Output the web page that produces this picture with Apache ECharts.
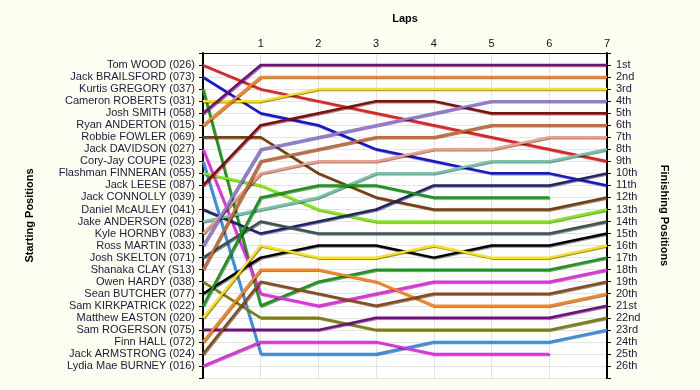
<!DOCTYPE html>
<html>
<head>
<meta charset="utf-8">
<script src="https://cdn.jsdelivr.net/npm/echarts@6/dist/echarts.min.js"></script>
<style>
html,body{margin:0;padding:0;background:#FDFDF1;}
#chart{width:700px;height:390px;}
</style>
</head>
<body>
<div id="chart"></div>
<script>
const laps = [0, 1, 2, 3, 4, 5, 6, 7];
const lapLabels = ['', '1', '2', '3', '4', '5', '6', '7'];
const startNames = [
  'Tom WOOD (026)', 'Jack BRAILSFORD (073)', 'Kurtis GREGORY (037)', 'Cameron ROBERTS (031)',
  'Josh SMITH (058)', 'Ryan ANDERTON (015)', 'Robbie FOWLER (069)', 'Jack DAVIDSON (027)',
  'Cory-Jay COUPE (023)', 'Flashman FINNERAN (055)', 'Jack LEESE (087)', 'Jack CONNOLLY (039)',
  'Daniel McAULEY (041)', 'Jake ANDERSON (028)', 'Kyle HORNBY (083)', 'Ross MARTIN (033)',
  'Josh SKELTON (071)', 'Shanaka CLAY (S13)', 'Owen HARDY (038)', 'Sean BUTCHER (077)',
  'Sam KIRKPATRICK (022)', 'Matthew EASTON (020)', 'Sam ROGERSON (075)', 'Finn HALL (072)',
  'Jack ARMSTRONG (024)', 'Lydia Mae BURNEY (016)'
];
const finishLabels = [
  '1st', '2nd', '3rd', '4th', '5th', '6th', '7th', '8th', '9th', '10th', '11th', '12th', '13th',
  '14th', '15th', '16th', '17th', '18th', '19th', '20th', '21st', '22nd', '23rd', '24th', '25th', '26th'
];
// position of each rider at lap 0..7 (same order as startNames)
const riderPositions = [
  [1, 3, 4, 5, 6, 7, 8, 9],
  [2, 5, 6, 8, 9, 10, 10, 11],
  [3, 21, 19, 18, 18, 18, 18, 17],
  [4, 4, 3, 3, 3, 3, 3, 3],
  [5, 1, 1, 1, 1, 1, 1, 1],
  [6, 2, 2, 2, 2, 2, 2, 2],
  [7, 7, 10, 12, 13, 13, 13, 12],
  [8, 20, 21, 20, 19, 19, 19, 18],
  [9, 25, 25, 25, 24, 24, 24, 23],
  [10, 11, 13, 14, 14, 14, 14, 13],
  [11, 6, 5, 4, 4, 5, 5, 5],
  [],
  [13, 15, 14, 13, 11, 11, 11, 10],
  [14, 13, 12, 10, 10, 9, 9, 8],
  [15, 10, 9, 9, 8, 8, 7, 7],
  [16, 8, 7, 6, 5, 4, 4, 4],
  [17, 14, 15, 15, 15, 15, 15, 14],
  [18, 9, 8, 7, 7, 6, 6, 6],
  [19, 22, 22, 23, 23, 23, 23, 22],
  [20, 17, 16, 16, 17, 16, 16, 15],
  [21, 12, 11, 11, 12, 12, 12],
  [22, 16, 17, 17, 16, 17, 17, 16],
  [23, 23, 23, 22, 22, 22, 22, 21],
  [24, 18, 18, 19, 21, 21, 21, 20],
  [25, 19, 20, 21, 20, 20, 20, 19],
  [26, 24, 24, 24, 25, 25, 25]
];
const lineColors = [
  '#EE1C1C', '#1414DC', '#169A16', '#FFE400', '#780A88', '#FF8412', '#7A3E08', '#F224EE',
  '#2E90F0', '#7EF000', '#8A0A0A', '#888888', '#222272', '#6CC8AA', '#F69C80', '#9578DC',
  '#385454', '#CC6A30', '#7F7F00', '#000000', '#169A16', '#FFE400', '#780A88', '#FF8412',
  '#8A4A1A', '#F224EE'
];

const FONT = '"Liberation Sans", Arial, sans-serif';
const chart = echarts.init(document.getElementById('chart'));

const series = riderPositions.map((pos, i) => ({
  name: startNames[i],
  type: 'line',
  xAxisIndex: 0,
  yAxisIndex: 0,
  symbol: 'none',
  silent: true,
  animation: false,
  lineStyle: {
    color: lineColors[i],
    width: 2.5,
    shadowColor: 'rgba(0,0,0,0.45)',
    shadowOffsetX: 1,
    shadowOffsetY: 1,
    shadowBlur: 0
  },
  data: pos.map((p, k) => [laps[k], p])
}));

const yCommon = {
  type: 'value',
  min: 0,
  max: 27,
  interval: 1,
  inverse: true,
  nameLocation: 'middle',
  nameTextStyle: { fontFamily: FONT, fontSize: 11, fontWeight: 'bold', color: '#000' },
  axisLine: { show: true, lineStyle: { color: '#000', width: 2 } },
  axisTick: { show: true, length: 4, lineStyle: { color: '#000' } }
};

chart.setOption({
  backgroundColor: '#FDFDF1',
  animation: false,
  grid: {
    left: 203, right: 93, top: 53, bottom: 12,
    show: true, backgroundColor: '#FFFFFF', borderWidth: 0
  },
  xAxis: {
    type: 'value',
    position: 'top',
    min: 0,
    max: 7,
    interval: 1,
    name: 'Laps',
    nameLocation: 'middle',
    nameGap: 29,
    nameTextStyle: { fontFamily: FONT, fontSize: 11, fontWeight: 'bold', color: '#000' },
    axisLine: { show: true, lineStyle: { color: '#000', width: 1 } },
    axisTick: { show: false },
    axisLabel: {
      margin: 4,
      fontFamily: FONT, fontSize: 11, color: '#111',
      formatter: v => lapLabels[v] ?? ''
    },
    splitLine: { show: true, lineStyle: { color: '#E4E4E4', width: 1 } }
  },
  yAxis: [
    Object.assign({}, yCommon, {
      position: 'left',
      name: 'Starting Positions',
      nameRotate: 90,
      nameGap: 168,
      axisLabel: {
        margin: 8,
        fontFamily: FONT, fontSize: 11, color: '#1a1a3a',
        formatter: v => startNames[v - 1] || ''
      },
      splitLine: { show: true, lineStyle: { color: '#E4E4E4', width: 1 } }
    }),
    Object.assign({}, yCommon, {
      position: 'right',
      name: 'Finishing Positions',
      nameRotate: -90,
      nameGap: 52,
      axisLabel: {
        margin: 9,
        fontFamily: FONT, fontSize: 11, color: '#1a1a3a',
        formatter: v => finishLabels[v - 1] || ''
      },
      splitLine: { show: false }
    })
  ],
  series: series
});
</script>
</body>
</html>
